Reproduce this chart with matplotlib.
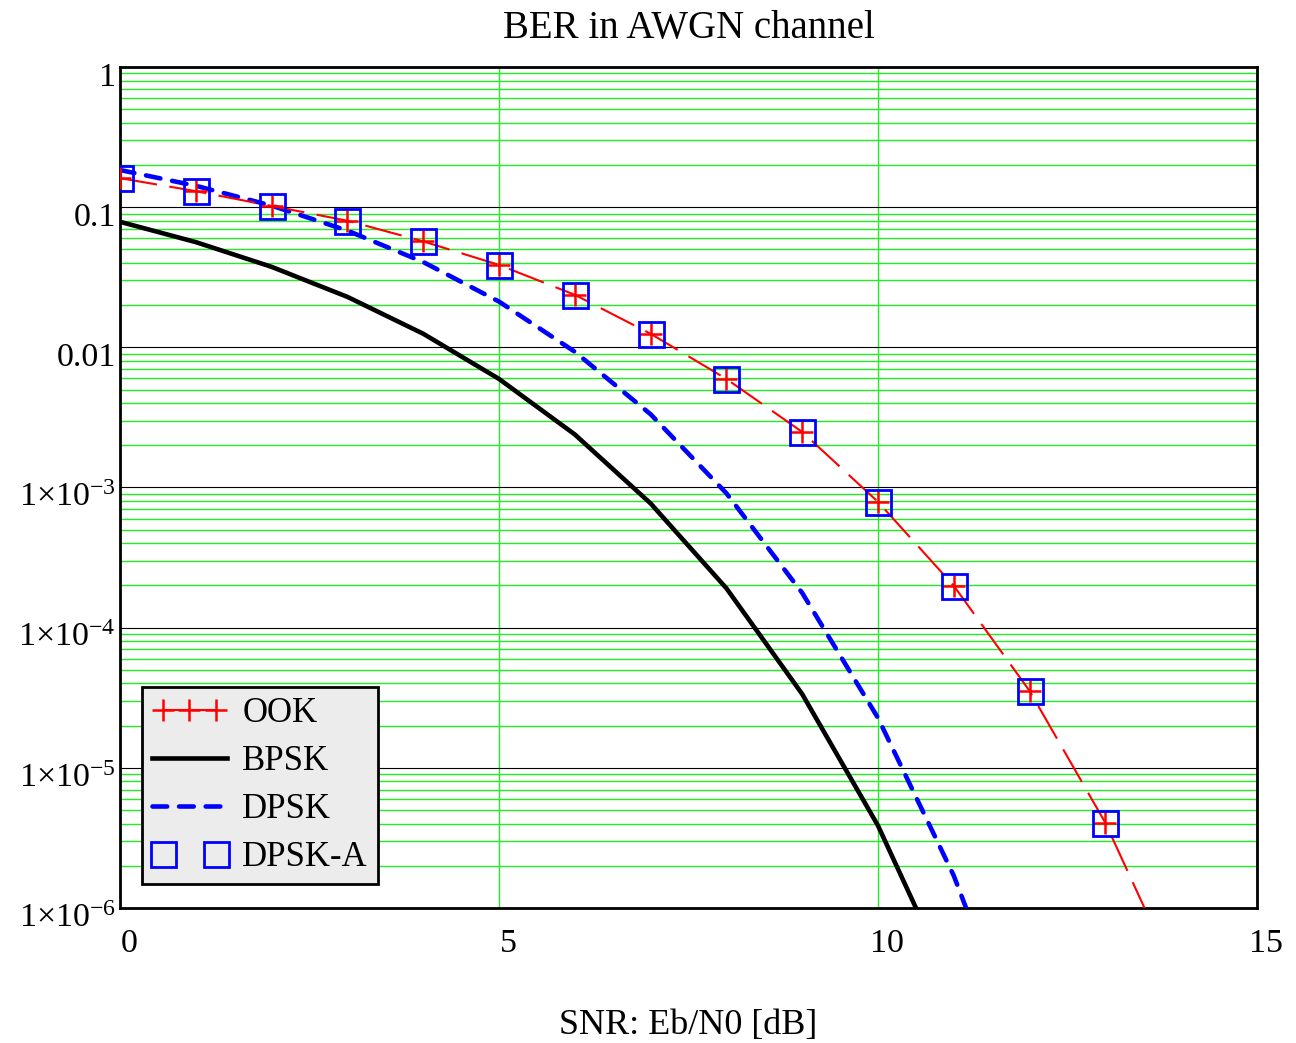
"""BER curves in an AWGN channel: OOK, BPSK, DPSK and DPSK-A."""

import matplotlib
matplotlib.use("Agg")
import matplotlib.pyplot as plt
import matplotlib.transforms as mtransforms
from matplotlib.legend_handler import HandlerLine2D
from matplotlib.ticker import FixedLocator, LogLocator


# values
snr_db = [0, 1, 2, 3, 4, 5, 6, 7, 8, 9, 10, 11, 12, 13, 14]
ber_ook = [0.161, 0.130, 0.102, 0.080, 0.057, 0.0387, 0.0237, 0.0125,
           5.95e-3, 2.49e-3, 7.9e-4, 1.99e-4, 3.54e-5, 4.05e-6, 2.7e-7]
ber_bpsk = [0.0786, 0.0563, 0.0375, 0.0229, 0.0125, 5.95e-3, 2.39e-3,
            7.7e-4, 1.91e-4, 3.36e-5, 3.87e-6, 2.6e-7]
ber_dpsk = [0.184, 0.142, 0.1025, 0.068, 0.0406, 0.0212, 9.3e-3, 3.33e-3,
            9.1e-4, 1.77e-4, 2.27e-5, 1.7e-6, 6.5e-8]
snr_dpsk_a = [0, 1, 2, 3, 4, 5, 6, 7, 8, 9, 10, 11, 12, 13]
ber_dpsk_a = [0.161, 0.130, 0.102, 0.080, 0.057, 0.0387, 0.0237, 0.0125,
              5.95e-3, 2.49e-3, 7.9e-4, 1.99e-4, 3.54e-5, 4.05e-6]

x_ticks = [0, 5, 10, 15]
y_ticks = [1e-6, 1e-5, 1e-4, 1e-3, 1e-2, 1e-1, 1]
y_tick_labels = [r"1$\times$10$^{-6}$", r"1$\times$10$^{-5}$", r"1$\times$10$^{-4}$",
                 r"1$\times$10$^{-3}$", "0.01", "0.1", "1"]

GRID_GREEN = "#22ee22"
SERIF = "Liberation Serif"


def solid_handle(handle, orig):
    """Legend sample for OOK is drawn solid in the reference."""
    handle.update_from(orig)
    handle.set_linestyle("-")


def main():
    plt.rcParams["font.family"] = [SERIF, "DejaVu Serif"]
    plt.rcParams["mathtext.fontset"] = "custom"
    plt.rcParams["mathtext.rm"] = SERIF
    plt.rcParams["mathtext.it"] = SERIF + ":italic"

    fig = plt.figure(figsize=(12.96, 10.43), dpi=100)
    ax = fig.add_axes([0.0926, 0.1294, 0.8773, 0.8064])

    ax.set_yscale("log")
    ax.set_xlim(0, 15)
    ax.set_ylim(1e-6, 1)

    # grid: green minor decade lines, black major decades, green verticals
    ax.yaxis.set_minor_locator(LogLocator(base=10, subs=range(2, 10), numticks=20))
    ax.grid(True, which="minor", axis="y", color=GRID_GREEN, lw=1.0)
    ax.grid(True, which="major", axis="y", color="black", lw=0.8)
    ax.grid(True, which="major", axis="x", color=GRID_GREEN, lw=1.0)
    ax.set_axisbelow(True)

    ook, = ax.plot(snr_db, ber_ook, color="red", lw=1.5, linestyle=(0, (18, 6)),
                   marker="+", ms=16, mew=1.8, label="OOK", zorder=4)
    ax.plot(snr_db[:len(ber_bpsk)], ber_bpsk, color="black", lw=3.3,
            label="BPSK", zorder=3)
    ax.plot(snr_db[:len(ber_dpsk)], ber_dpsk, color="blue", lw=3.3,
            linestyle=(0, (3.2, 2.6)), dash_capstyle="round",
            label="DPSK", zorder=3)
    dpska, = ax.plot(snr_dpsk_a, ber_dpsk_a, linestyle="none", marker="s", ms=18,
                     mfc="none", mec="blue", mew=2.0, label="DPSK-A", zorder=5)

    ax.xaxis.set_major_locator(FixedLocator(x_ticks))
    ax.yaxis.set_major_locator(FixedLocator(y_ticks))
    ax.set_yticklabels(y_tick_labels)
    ax.set_xticklabels([str(v) for v in x_ticks])
    ax.tick_params(which="both", length=0, labelsize=24.5)
    ax.tick_params(axis="x", pad=15)
    ax.tick_params(axis="y", pad=3)

    # Mathcad puts labels a little off the tick positions
    dx = mtransforms.ScaledTranslation(9 / 100, 0, fig.dpi_scale_trans)
    for lab in ax.get_xticklabels():
        lab.set_transform(lab.get_transform() + dx)
    dy = mtransforms.ScaledTranslation(0, -7 / 100, fig.dpi_scale_trans)
    for lab in ax.get_yticklabels():
        lab.set_transform(lab.get_transform() + dy)

    for spine in ax.spines.values():
        spine.set_linewidth(2.0)

    ax.set_title("BER in AWGN channel", fontsize=28, pad=21)
    ax.set_xlabel("SNR: Eb/N0 [dB]", fontsize=26, labelpad=36)

    leg = ax.legend(loc="lower left", bbox_to_anchor=(0.013, 0.02), fontsize=25,
                    fancybox=False, framealpha=1, handlelength=2.15,
                    handletextpad=0.45, borderpad=0.3, labelspacing=0.43,
                    borderaxespad=0.2,
                    handler_map={ook: HandlerLine2D(numpoints=3,
                                                    update_func=solid_handle),
                                 dpska: HandlerLine2D(numpoints=2)})
    leg.get_frame().set_facecolor("#ececec")
    leg.get_frame().set_edgecolor("black")
    leg.get_frame().set_linewidth(2.0)

    fig.savefig("out.png", dpi=100)


if __name__ == "__main__":
    main()
